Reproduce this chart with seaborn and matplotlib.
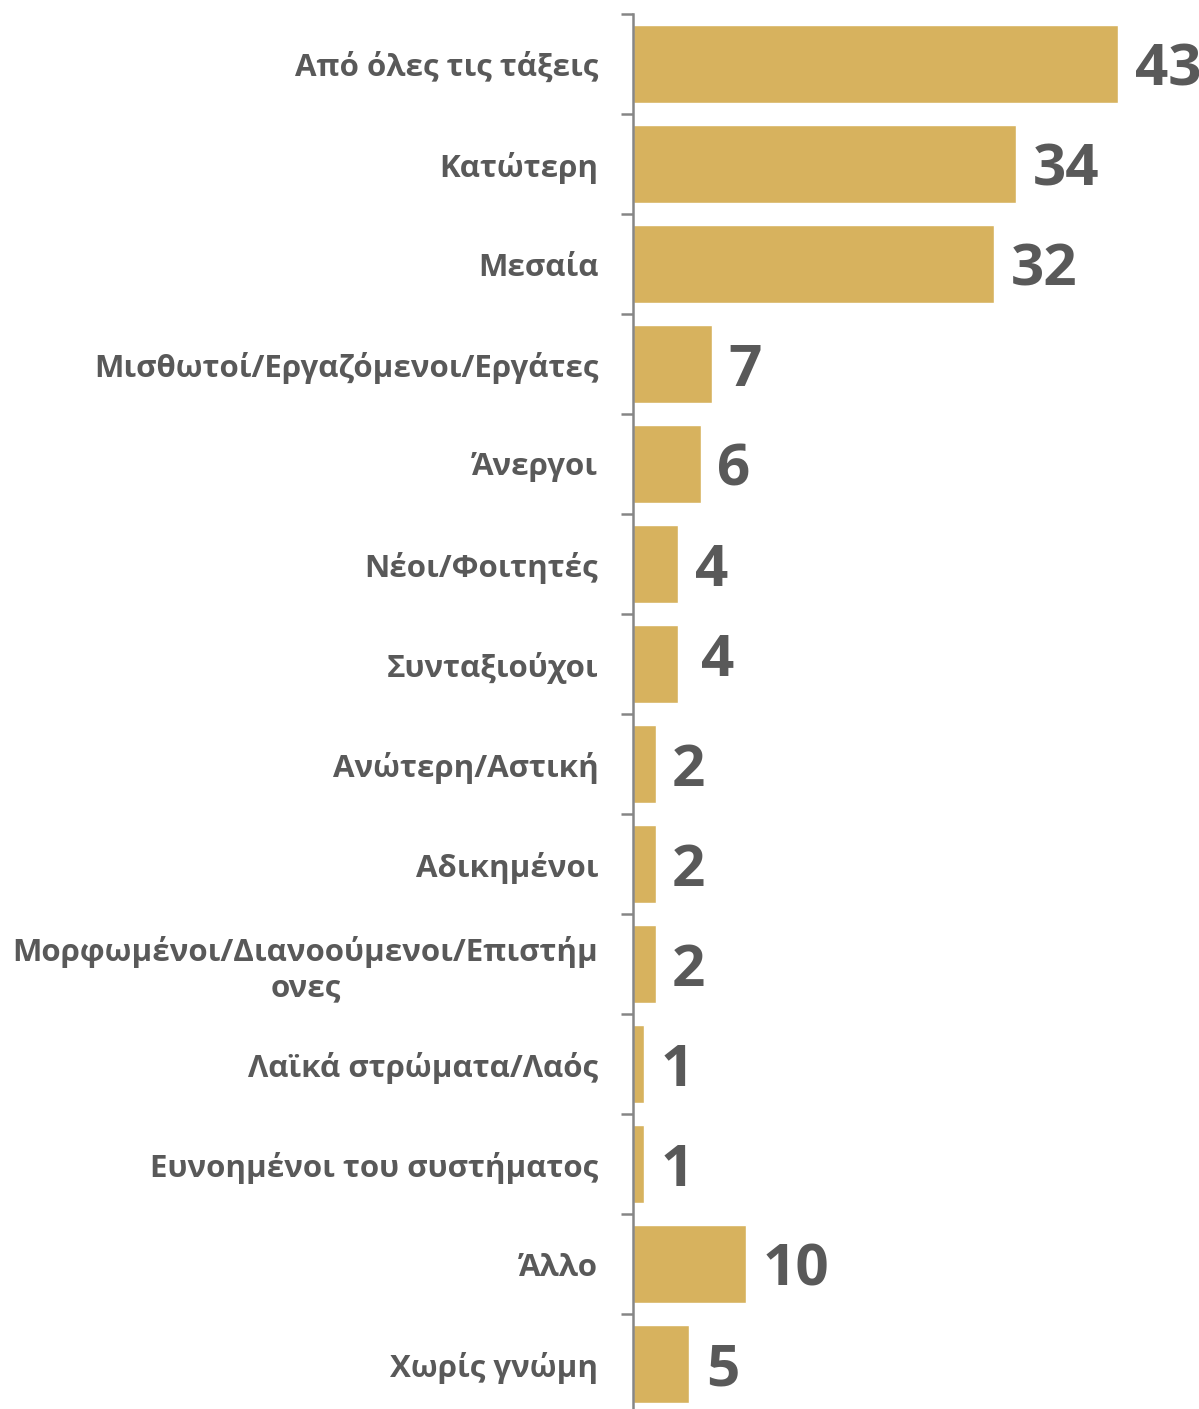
import numpy as np
import pandas as pd
import seaborn as sns
import matplotlib.pyplot as plt
from matplotlib.ticker import FixedLocator

# data
categories = [
    "Από όλες τις τάξεις",
    "Κατώτερη",
    "Μεσαία",
    "Μισθωτοί/Εργαζόμενοι/Εργάτες",
    "Άνεργοι",
    "Νέοι/Φοιτητές",
    "Συνταξιούχοι",
    "Ανώτερη/Αστική",
    "Αδικημένοι",
    "Μορφωμένοι/Διανοούμενοι/Επιστήμ\nονες",
    "Λαϊκά στρώματα/Λαός",
    "Ευνοημένοι του συστήματος",
    "Άλλο",
    "Χωρίς γνώμη",
]
values = [43, 34, 32, 7, 6, 4, 4, 2, 2, 2, 1, 1, 10, 5]

df = pd.DataFrame({"cat": categories, "val": values})

BAR = "#D7B25E"
TXT = "#595959"
AXC = "#868686"

sns.set_theme(style="white")
plt.rcParams["font.family"] = ["Open Sans", "DejaVu Sans"]

W, H = 1199, 1409
fig = plt.figure(figsize=(W / 100, H / 100), dpi=100)
ax = fig.add_axes([633 / W, 0, 1 - 633 / W, 1])

sns.barplot(data=df, x="val", y="cat", orient="h", color=BAR,
            saturation=1, width=0.78, ax=ax)

# 100 px per category, top boundary at y=14 px
ax.set_ylim(-0.5 + (H - 14) / 100, -0.5 - 14 / 100)
ax.set_xlim(0, (W - 633) / ((1118 - 633) / 43))

anns = ax.bar_label(ax.containers[0], labels=[str(v) for v in values], padding=12,
                    fontsize=42, fontweight="bold", color=TXT)
for a in anns:
    a.xyann = (12, -5)
# the "Συνταξιούχοι" label sits a little off in the original
anns[6].xyann = (16.5, 2)

for s in ["top", "right", "bottom"]:
    ax.spines[s].set_visible(False)
ax.spines["left"].set_color(AXC)
ax.spines["left"].set_linewidth(1.8)
ax.spines["left"].set_bounds(-0.5, 14)

ax.set_xticks([])
ax.set_xlabel("")
ax.set_ylabel("")
ax.yaxis.set_minor_locator(FixedLocator(np.arange(-0.5, len(categories), 1)))
ax.tick_params(axis="y", which="major", length=0, pad=25)
ax.tick_params(axis="y", which="minor", length=9, width=1.8, color=AXC, left=True)
for lab in ax.get_yticklabels():
    lab.set_fontsize(22.5)
    lab.set_fontweight("bold")
    lab.set_color(TXT)
    lab.set_multialignment("center")

fig.savefig("out.png", dpi=100)
